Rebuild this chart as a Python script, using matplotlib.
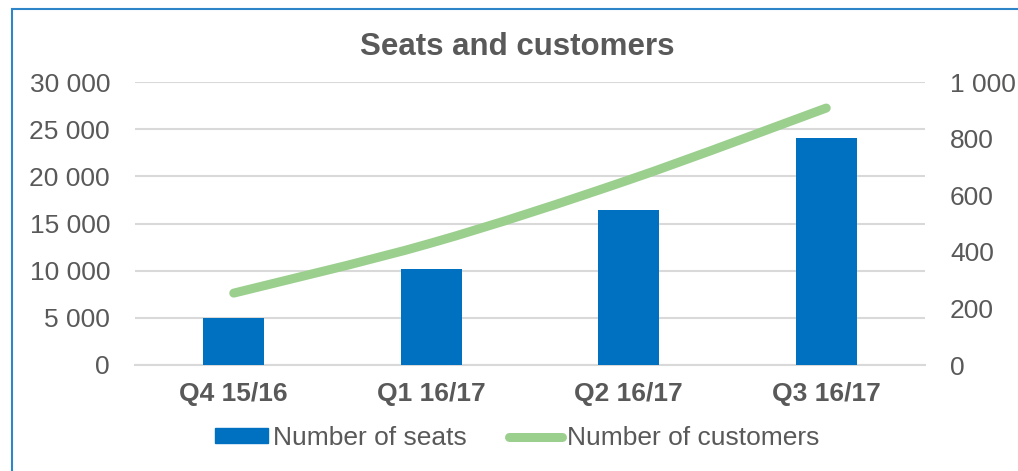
import matplotlib.pyplot as plt
from matplotlib.path import Path
from matplotlib.patches import PathPatch, Rectangle
from matplotlib.lines import Line2D
from matplotlib.ticker import FuncFormatter
import numpy as np

plt.rcParams['font.family'] = ['Liberation Sans', 'DejaVu Sans']

quarters = ["Q4 15/16", "Q1 16/17", "Q2 16/17", "Q3 16/17"]
seats = [5000, 10200, 16400, 24100]
customers = [254, 431, 654, 908]

blue = "#0070C0"
green = "#9BCF8E"
grey = "#595959"


def fmt(v, pos):
    return f"{int(v):,}".replace(",", " ")


def smooth_path(xs, ys):
    # Catmull-Rom -> cubic bezier, like Excel's smoothed line
    pts = list(zip(xs, ys))
    verts = [pts[0]]
    codes = [Path.MOVETO]
    n = len(pts)
    for i in range(n - 1):
        p0 = pts[i - 1] if i > 0 else pts[i]
        p1 = pts[i]
        p2 = pts[i + 1]
        p3 = pts[i + 2] if i + 2 < n else pts[i + 1]
        c1 = (p1[0] + (p2[0] - p0[0]) / 6, p1[1] + (p2[1] - p0[1]) / 6)
        c2 = (p2[0] - (p3[0] - p1[0]) / 6, p2[1] - (p3[1] - p1[1]) / 6)
        verts += [c1, c2, p2]
        codes += [Path.CURVE4] * 3
    return Path(verts, codes)


fig = plt.figure(figsize=(10.18, 4.71), dpi=100)
ax = fig.add_axes([135 / 1018, 1 - 365 / 471, 790 / 1018, 283 / 471])
ax2 = ax.twinx()

x = np.arange(len(quarters))
ax.bar(x, seats, width=0.31, color=blue, zorder=3)
ax.set_xlim(-0.5, 3.5)
ax.set_ylim(0, 30000)
ax.set_yticks(range(0, 30001, 5000))
ax.yaxis.set_major_formatter(FuncFormatter(fmt))
ax.set_xticks(x)
ax.set_xticklabels(quarters, fontweight="bold")
ax.grid(axis="y", color="#D9D9D9", linewidth=1.5, zorder=0)
ax.set_axisbelow(True)

ax2.set_ylim(0, 1000)
ax2.set_yticks(range(0, 1001, 200))
ax2.yaxis.set_major_formatter(FuncFormatter(fmt))
ax2.add_patch(PathPatch(smooth_path(x, customers), fill=False, edgecolor=green,
                        linewidth=6.5, capstyle="round", zorder=4))

for a in (ax, ax2):
    for s in a.spines.values():
        s.set_visible(False)
    a.tick_params(length=0, labelsize=19, colors=grey)
ax.spines["bottom"].set_visible(True)
ax.spines["bottom"].set_color("#D9D9D9")
ax.spines["bottom"].set_linewidth(1.5)
ax.tick_params(axis="y", pad=18)
ax.tick_params(axis="x", pad=12)
ax2.tick_params(axis="y", pad=18)

fig.text(517 / 1018, 1 - 47 / 471, "Seats and customers", ha="center", va="center",
         fontsize=22.5, fontweight="bold", color=grey)

handles = [Rectangle((0, 0), 1, 1, color=blue),
           Line2D([0], [0], color=green, linewidth=6.5, solid_capstyle="round")]
fig.legend(handles, ["Number of seats", "Number of customers"], loc="center",
           bbox_to_anchor=(517 / 1018, 1 - 438 / 471), ncol=2, frameon=False,
           fontsize=19, labelcolor=grey, handlelength=2.0, handleheight=0.5,
           handletextpad=0.2, columnspacing=1.6, borderpad=0)

fig.add_artist(Rectangle((12 / 1018, -0.05), 1.2, 1 - 9 / 471 + 0.05,
                         transform=fig.transFigure, fill=False,
                         edgecolor="#2E86C8", linewidth=1.5))

fig.savefig("out.png", dpi=100)
